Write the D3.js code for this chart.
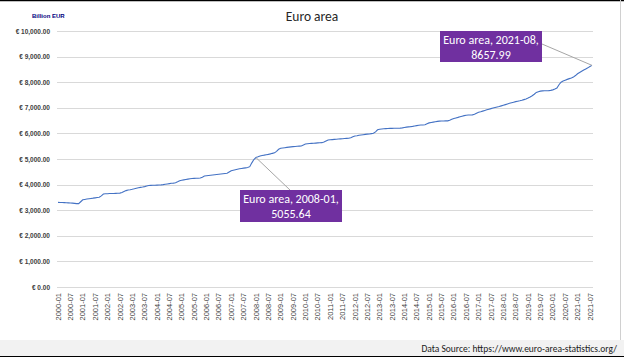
<!DOCTYPE html>
<html><head><meta charset="utf-8">
<script src="https://cdn.jsdelivr.net/npm/d3@7"></script>
<style>
html,body{margin:0;padding:0;background:#fff;}
svg{display:block;font-family:Calibri,Carlito,"Liberation Sans","Open Sans",sans-serif;}
</style></head>
<body>
<svg id="chart" width="624" height="357"></svg>
<script>
// ---- data ----
const years = d3.range(2000, 2022);
const months = [];
years.forEach(y => { for (let m = 1; m <= 12; m++) { if (y === 2021 && m > 8) break; months.push(y + "-" + String(m).padStart(2, "0")); } });

const values2000 = [3305,3302,3298,3295,3290,3287,3282,3276,3268,3258,3255,3330];
const values2001 = [3405,3420,3435,3448,3460,3470,3482,3495,3503,3560,3630,3640];
const values2002 = [3645,3650,3652,3655,3658,3660,3668,3690,3730,3765,3790,3800];
const values2003 = [3815,3835,3860,3880,3893,3905,3920,3945,3965,3970,3972,3975];
const values2004 = [3978,3982,3990,4000,4012,4025,4038,4050,4058,4075,4110,4150];
const values2005 = [4170,4185,4200,4215,4230,4240,4245,4247,4250,4255,4290,4335];
const values2006 = [4345,4355,4365,4375,4385,4395,4405,4415,4425,4432,4440,4490];
const values2007 = [4540,4560,4580,4600,4618,4632,4645,4655,4665,4700,4850,4980];
const values2008 = [5055.64,5085,5117,5135,5150,5168,5182,5200,5221,5240,5300,5380];
const values2009 = [5417,5430,5442,5455,5465,5475,5483,5490,5497,5503,5510,5545];
const values2010 = [5586,5595,5603,5610,5616,5622,5628,5633,5638,5660,5700,5742];
const values2011 = [5750,5758,5766,5773,5780,5787,5794,5800,5805,5808,5830,5870];
const values2012 = [5898,5910,5925,5937,5950,5962,5970,5977,5990,6003,6060,6140];
const values2013 = [6165,6172,6180,6188,6193,6197,6198,6199,6200,6202,6205,6215];
const values2014 = [6230,6245,6255,6263,6275,6290,6305,6318,6327,6330,6340,6380];
const values2015 = [6410,6425,6440,6455,6468,6478,6484,6486,6488,6490,6510,6550];
const values2016 = [6585,6605,6625,6650,6672,6695,6712,6718,6720,6725,6750,6790];
const values2017 = [6823,6845,6870,6895,6920,6945,6968,6990,7010,7030,7050,7075];
const values2018 = [7100,7125,7150,7175,7200,7220,7240,7258,7275,7295,7320,7345];
const values2019 = [7380,7420,7470,7530,7600,7630,7650,7660,7665,7668,7670,7680];
const values2020 = [7700,7730,7770,7900,8000,8050,8080,8110,8140,8160,8200,8260];
const values2021 = [8330,8380,8430,8480,8520,8560,8610,8657.99];

const values = [].concat(values2000,values2001,values2002,values2003,values2004,values2005,
  values2006,values2007,values2008,values2009,values2010,values2011,values2012,values2013,
  values2014,values2015,values2016,values2017,values2018,values2019,values2020,values2021);

const yTicks = [0,1000,2000,3000,4000,5000,6000,7000,8000,9000,10000];
const xTickLabels = months.filter(m => m.endsWith("-01") || m.endsWith("-07"));
const annotations = [{month: "2008-01", label: ["Euro area, 2008-01,", "5055.64"]},
                     {month: "2021-08", label: ["Euro area, 2021-08,", "8657.99"]}];
const seriesName = "Euro area";
const unitLabel = "Billion EUR";
const sourceText = "Data Source: https://www.euro-area-statistics.org/";

// ---- layout ----
const svg = d3.select("#chart");
const W = 624, H = 357;
const m = {left: 57, right: 31, top: 31, bottom: 70};

svg.append("rect").attr("x",0).attr("y",0).attr("width",W).attr("height",H).attr("fill","#fff");
svg.append("rect").attr("x",0).attr("y",340).attr("width",W).attr("height",17).attr("fill","#f2f2f2");
svg.append("line").attr("x1",0).attr("x2",W).attr("y1",0.5).attr("y2",0.5).attr("stroke","#000").attr("stroke-width",1.5);
svg.append("line").attr("x1",620.5).attr("x2",620.5).attr("y1",0).attr("y2",340).attr("stroke","#d0d0d0");
svg.append("line").attr("x1",0).attr("x2",W).attr("y1",356.5).attr("y2",356.5).attr("stroke","#000").attr("stroke-width",1);

const x = d3.scaleBand().domain(months).range([m.left, 593]).padding(0);
const y = d3.scaleLinear().domain([0, 10000]).range([287, 31]);
const cx = d => x(d) + x.bandwidth()/2;

// gridlines
svg.append("g").selectAll("line").data(yTicks).join("line")
  .attr("x1", m.left).attr("x2", 593)
  .attr("y1", d => Math.round(y(d)) + 0.5).attr("y2", d => Math.round(y(d)) + 0.5)
  .attr("stroke", "#d9d9d9").attr("stroke-width", 1);

// y axis labels
const yAxis = d3.axisLeft(y).tickValues(yTicks).tickSize(0).tickPadding(0)
  .tickFormat(d => "€ " + d3.format(",.2f")(d));
const gy = svg.append("g").attr("transform", "translate(50,0)").call(yAxis);
gy.select(".domain").remove();
gy.selectAll("text").attr("font-size", 6.5).attr("font-weight", "bold").attr("fill", "#404040")
  .attr("font-family", "'Liberation Sans', Arial, sans-serif");

// x axis
const xAxis = d3.axisBottom(x).tickValues(xTickLabels).tickSize(0).tickPadding(0);
const gx = svg.append("g").attr("transform", "translate(0,287)").call(xAxis);
gx.select(".domain").remove();
gx.selectAll("text")
  .attr("transform", "rotate(-90)")
  .attr("text-anchor", "end")
  .attr("x", -6).attr("y", 0).attr("dy", "0.35em")
  .attr("font-size", 7.5).attr("fill", "#404040")
  .attr("font-family", "'Liberation Sans', Arial, sans-serif");

// line
const data = months.map((mo, i) => ({month: mo, value: values[i]}));
svg.append("path").datum(data)
  .attr("fill", "none").attr("stroke", "#4472C4").attr("stroke-width", 1.1)
  .attr("d", d3.line().x(d => cx(d.month)).y(d => y(d.value)));

// title
svg.append("text").attr("x", 312).attr("y", 21).attr("text-anchor", "middle")
  .attr("font-size", 13.5).attr("fill", "#262626").text(seriesName);

// unit label
svg.append("text").attr("x", 32).attr("y", 18).attr("font-size", 6).attr("font-weight", "bold")
  .attr("fill", "#000080").attr("font-family", "'Liberation Sans', Arial, sans-serif").text(unitLabel);

// annotations
const boxes = [{x: 240, y: 190, w: 102, h: 32, ax: 290, ay: 190},
               {x: 440, y: 31, w: 102, h: 31, ax: 542, ay: 44}];
annotations.forEach((a, k) => {
  const i = months.indexOf(a.month);
  const px = cx(a.month), py = y(values[i]);
  const b = boxes[k];
  svg.append("line").attr("x1", px).attr("y1", py).attr("x2", b.ax).attr("y2", b.ay)
    .attr("stroke", "#a6a6a6").attr("stroke-width", 1);
  svg.append("rect").attr("x", b.x).attr("y", b.y).attr("width", b.w).attr("height", b.h).attr("fill", "#7030A0");
  a.label.forEach((t, j) => {
    svg.append("text").attr("x", b.x + b.w/2).attr("y", b.y + 13 + j*15)
      .attr("text-anchor", "middle").attr("font-size", 12).attr("fill", "#fff").text(t);
  });
});

// source
svg.append("text").attr("x", 617).attr("y", 352).attr("text-anchor", "end")
  .attr("font-size", 9.5).attr("fill", "#1a1a1a").text(sourceText);
</script>
</body></html>
